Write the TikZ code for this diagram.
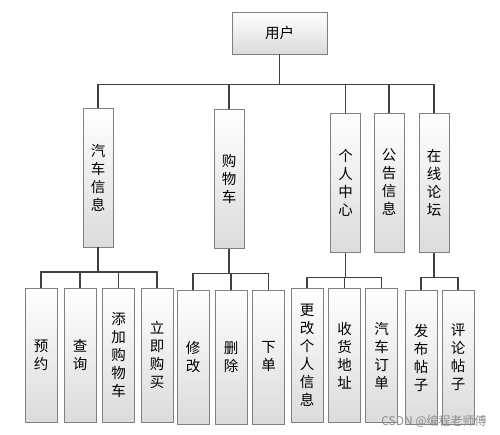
\documentclass[tikz,border=0pt]{standalone}
\usepackage{fontspec}
\setmainfont{Noto Sans CJK SC}

\begin{document}
\begin{tikzpicture}[
    x=1pt, y=-1pt,
    font=\fontsize{14.5}{18}\selectfont,
    box/.style={draw=black!50, line width=0.9pt, top color=white, bottom color=black!14,
      inner sep=0pt, align=center},
    topbox/.style={box, minimum width=95pt, minimum height=42pt},
    midbox/.style={box, minimum width=30pt, minimum height=139pt},
    leaf/.style={box, minimum width=32pt, minimum height=134pt},
    conn/.style={draw=black!75, line width=1.3pt}
  ]
    \useasboundingbox (0,0) rectangle (500,435);
    % root
    \node[topbox] (user) at (279.5,33) {用户};
    % modules
    \node[midbox] (car) at (98,177.5) {汽\\车\\信\\息};
    \node[midbox] (cart) at (229,179) {购\\物\\车};
    \node[midbox] (me) at (345.5,183) {个\\人\\中\\心};
    \node[midbox] (notice) at (389,182.5) {公\\告\\信\\息};
    \node[midbox] (forum) at (434,183) {在\\线\\论\\坛};
    % functions
    \node[leaf] (book) at (41,355) {预\\约};
    \node[leaf] (query) at (80,355) {查\\询};
    \node[leaf] (add) at (118.5,355) {添\\加\\购\\物\\车};
    \node[leaf] (buy) at (157,355) {立\\即\\购\\买};
    \node[leaf] (edit) at (193,357) {修\\改};
    \node[leaf] (del) at (231,357) {删\\除};
    \node[leaf] (order) at (268.5,357) {下\\单};
    \node[leaf] (info) at (307,355.5) {更\\改\\个\\人\\信\\息};
    \node[leaf] (addr) at (344.5,355.5) {收\\货\\地\\址};
    \node[leaf] (corder) at (381.5,355.5) {汽\\车\\订\\单};
    \node[leaf] (post) at (421,357.5) {发\\布\\帖\\子};
    \node[leaf] (reply) at (458,357.5) {评\\论\\帖\\子};

    % root to modules
    \draw[conn] (user.south) -- ++(0,30) coordinate (b0);
    \draw[conn] (car.north) |- (forum.north |- b0) -- (forum.north);
    \foreach \n in {cart,me,notice}
      \draw[conn] (\n.north) -- (\n.north |- b0);

    % modules to functions
    \draw[conn] (car.south) -- ++(0,24.5) coordinate (b1);
    \draw[conn] (book.north) |- (buy.north |- b1) -- (buy.north);
    \foreach \n in {query,add}
      \draw[conn] (\n.north) -- (\n.north |- b1);

    \draw[conn] (cart.south) -- ++(0,24.5) coordinate (b2);
    \draw[conn] (edit.north) |- (order.north |- b2) -- (order.north);
    \draw[conn] (del.north) -- (del.north |- b2);

    \draw[conn] (me.south) -- ++(0,24.5) coordinate (b3);
    \draw[conn] (info.north) |- (corder.north |- b3) -- (corder.north);
    \draw[conn] (addr.north) -- (addr.north |- b3);

    \draw[conn] (forum.south) -- ++(0,24.5) coordinate (b4);
    \draw[conn] (post.north) |- (reply.north |- b4) -- (reply.north);

    \node[text=black!45, font=\fontsize{12}{14}\selectfont] (mark) at (434,421) {CSDN @编程老师傅};
  \end{tikzpicture}
\end{document}
